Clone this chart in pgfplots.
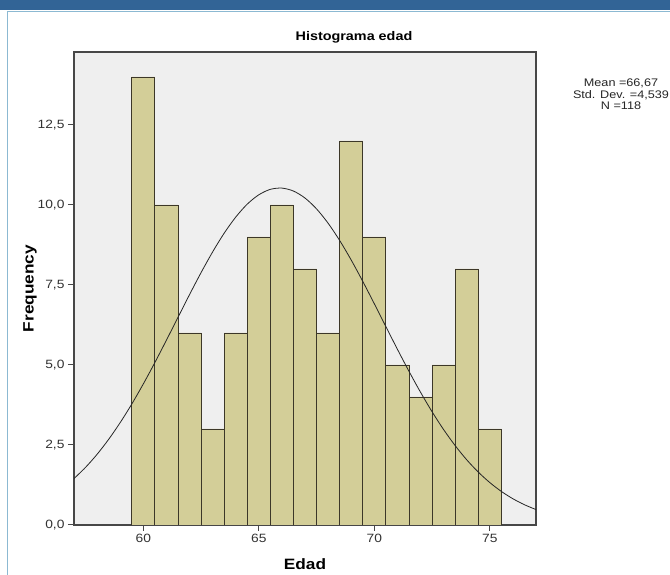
\documentclass[border=0pt]{standalone}
\usepackage{fontspec}
\setmainfont[FakeStretch=1.15]{Liberation Sans}
\usepackage{pgfplots}
\pgfplotsset{compat=1.18}
\definecolor{hdr}{RGB}{50,100,150}
\definecolor{brd}{RGB}{140,185,210}
\definecolor{plotbg}{RGB}{239,239,239}
\definecolor{barfill}{RGB}{211,206,152}
\definecolor{baredge}{RGB}{60,55,40}
\begin{document}
\begin{tikzpicture}[x=1pt,y=1pt]
\path[use as bounding box] (0,0) rectangle (670,575);
\fill[white] (0,0) rectangle (670,575);
\fill[hdr] (0,565) rectangle (670,575);
\draw[brd, line width=1.5pt] (7.5,0) -- (7.5,563.5) -- (670,563.5);
\begin{axis}[
  at={(74pt,50pt)}, anchor=south west,
  scale only axis, width=462pt, height=473pt,
  xmin=57, xmax=77, ymin=0, ymax=14.78,
  axis background/.style={fill=plotbg},
  axis line style={draw=black!72, line width=1.3pt},
  xtick={60,65,70,75}, ytick={0,2.5,5,7.5,10,12.5},
  tick align=outside, tick pos=left, major tick length=6pt,
  tick style={draw=black!72, line width=1pt},
  /pgf/number format/assume math mode=true,
  tick label style={font=\fontsize{12}{14}\selectfont, text=black!80},
  yticklabel style={/pgf/number format/.cd, fixed, fixed zerofill, precision=1, use comma},
  xticklabel style={/pgf/number format/.cd, fixed, precision=0},
  title={Histograma edad},
  title style={font=\bfseries\fontsize{12.5}{14}\selectfont, at={(axis description cs:0.5,1)}, anchor=base, xshift=49pt, yshift=5pt},
  xlabel={Edad},
  xlabel style={font=\bfseries\fontsize{15}{17}\selectfont, at={(axis description cs:0.5,-0.0835)}, anchor=center},
  ylabel={Frequency},
  ylabel style={font=\bfseries\fontsize{15}{17}\selectfont, at={(axis description cs:-0.0952,0.5)}, anchor=center},
]
\addplot[ybar, bar width=1, fill=barfill, draw=baredge, line width=0.9pt] coordinates {
 (60,14) (61,10) (62,6) (63,3) (64,6) (65,9) (66,10) (67,8)
 (68,6) (69,12) (70,9) (71,5) (72,4) (73,5) (74,8) (75,3)
};
\addplot[black!85, line width=0.8pt, smooth] coordinates {
 (57,1.451) (57.5,1.801) (58,2.209) (58.5,2.676) (59,3.200) (59.5,3.778)
 (60,4.407) (60.5,5.075) (61,5.774) (61.5,6.486) (62,7.197) (62.5,7.885)
 (63,8.531) (63.5,9.117) (64,9.620) (64.5,10.026) (65,10.318) (65.5,10.488)
 (66,10.527) (66.5,10.435) (67,10.216) (67.5,9.877) (68,9.430) (68.5,8.891)
 (69,8.280) (69.5,7.614) (70,6.914) (70.5,6.201) (71,5.492) (71.5,4.804)
 (72,4.150) (72.5,3.540) (73,2.982) (73.5,2.481) (74,2.038) (74.5,1.654)
 (75,1.326) (75.5,1.049) (76,0.820) (76.5,0.633) (77,0.482)
};
\end{axis}
\node[anchor=north, align=center, inner sep=0pt, text=black!85, font=\fontsize{11}{11.5}\selectfont] at (621,496) {Mean =66,67\\Std. Dev. =4,539\\N =118};
\end{tikzpicture}
\end{document}
